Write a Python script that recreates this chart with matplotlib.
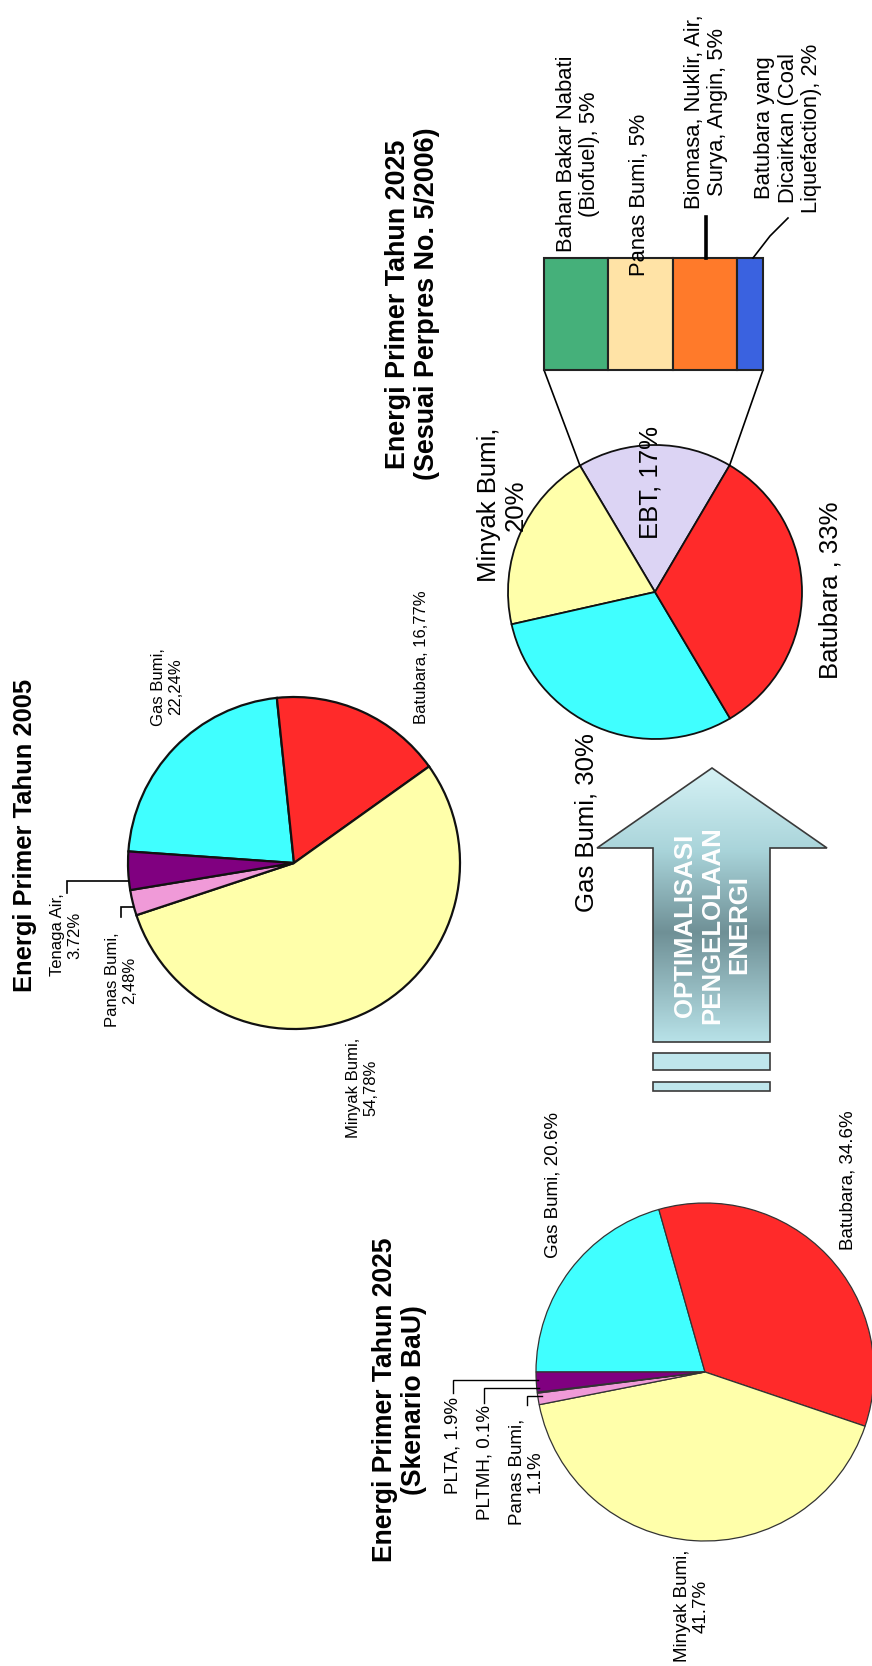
import numpy as np
import matplotlib
matplotlib.use('Agg')
import matplotlib.pyplot as plt
from matplotlib.patches import Polygon, Rectangle
from matplotlib.colors import LinearSegmentedColormap

W, H = 872, 1666

# --- data ---
# Energi Primer Tahun 2005 (clockwise from the left)
lab_2005 = ['Gas Bumi,\n22,24%', 'Batubara, 16,77%', 'Minyak Bumi,\n54,78%',
            'Panas Bumi,\n2,48%', 'Tenaga Air,\n3.72%']
val_2005 = [22.24, 16.77, 54.78, 2.48, 3.72]

# Energi Primer Tahun 2025 (Skenario BaU)
lab_bau = ['Gas Bumi, 20.6%', 'Batubara, 34.6%', 'Minyak Bumi,\n41.7%',
           'Panas Bumi,\n1.1%', 'PLTMH, 0.1%', 'PLTA, 1.9%']
val_bau = [20.6, 34.6, 41.7, 1.1, 0.1, 1.9]

# Energi Primer Tahun 2025 (Sesuai Perpres No. 5/2006)
lab_perpres = ['EBT, 17%', 'Minyak Bumi,\n20%', 'Gas Bumi, 30%', 'Batubara , 33%']
val_perpres = [17, 20, 30, 33]

# rincian EBT
lab_ebt = ['Bahan Bakar Nabati\n(Biofuel), 5%', 'Panas Bumi, 5%',
           'Biomasa, Nuklir, Air,\nSurya, Angin, 5%',
           'Batubara yang\nDicairkan (Coal\nLiquefaction), 2%']
val_ebt = [5, 5, 5, 2]

cyan, red, yellow = '#40FFFF', '#FF2A2A', '#FFFFAA'
pink, purple, lav = '#F09AD8', '#800080', '#DCD4F4'
col_2005 = [cyan, red, yellow, pink, purple]
col_bau = [cyan, red, yellow, pink, '#CC99FF', purple]
col_perpres = [lav, yellow, cyan, red]
col_ebt = ['#45B07A', '#FFE3A6', '#FF7A2A', '#3A62E0']

FONT = 'Liberation Sans'


def Y(y):
    return H - y


fig = plt.figure(figsize=(W / 100, H / 100), dpi=100)
ax = fig.add_axes([0, 0, 1, 1])


def vtext(x, y, s, size, bold=False, color='black', z=10):
    ax.text(x, Y(y), s, rotation=90, ha='center', va='center', fontsize=size,
            fontweight='bold' if bold else 'normal', color=color,
            family=FONT, zorder=z, linespacing=1.15)


def leader(pts, lw=1.2):
    ax.plot([p[0] for p in pts], [Y(p[1]) for p in pts], color='black', lw=lw,
            solid_joinstyle='miter', zorder=6)


# pies
ax.pie(val_2005, colors=col_2005, center=(294, Y(863)), radius=166,
       startangle=176, counterclock=False,
       wedgeprops=dict(edgecolor='#111111', linewidth=1.6))
w_p, _ = ax.pie(val_perpres, colors=col_perpres, center=(655, Y(592)), radius=147,
                startangle=59.5, counterclock=True,
                wedgeprops=dict(edgecolor='#111111', linewidth=1.3))
ax.pie(val_bau, colors=col_bau, center=(705, Y(1372)), radius=169,
       startangle=180, counterclock=False,
       wedgeprops=dict(edgecolor='#333333', linewidth=0.9))

# EBT bar
bx0, bx1, by0, by1 = 544, 763, 258, 370
scale = (bx1 - bx0) / sum(val_ebt)
lefts = bx0 + scale * np.concatenate([[0], np.cumsum(val_ebt)[:-1]])
ax.barh(Y((by0 + by1) / 2), np.array(val_ebt) * scale, left=lefts,
        height=by1 - by0, color=col_ebt, edgecolor='#222222', linewidth=1.5, zorder=3)

# connector lines from EBT slice to the bar
ebt = w_p[0]
cxp, cyp = ebt.center
for th, bx in [(ebt.theta2, bx0), (ebt.theta1, bx1)]:
    px = cxp + ebt.r * np.cos(np.radians(th))
    py = cyp + ebt.r * np.sin(np.radians(th))
    ax.plot([px, bx], [py, Y(by1)], color='black', lw=1.2, zorder=2)

# arrow
arrow_pts = [(712, 768), (827, 848), (770, 848), (770, 1042), (653, 1042),
             (653, 848), (597, 848)]
poly = Polygon([(x, Y(y)) for x, y in arrow_pts], closed=True, facecolor='none',
               edgecolor='#3a3a3a', lw=1.2, zorder=5)
ax.add_patch(poly)
cmap = LinearSegmentedColormap.from_list(
    'arr', [(0, '#d6f2f5'), (0.3, '#a9d4da'), (0.6, '#6f9096'), (1, '#b8e2e8')])
grad = np.linspace(0, 1, 256).reshape(-1, 1)
im = ax.imshow(grad, cmap=cmap, extent=(597, 827, Y(1042), Y(768)),
               origin='upper', aspect='auto', zorder=4)
im.set_clip_path(poly)
for y0, y1 in [(1053, 1070), (1082, 1091)]:
    ax.add_patch(Rectangle((653, Y(y1)), 117, y1 - y0, facecolor='#bfe6ec',
                           edgecolor='#3a3a3a', lw=1.2, zorder=5))
vtext(712, 925, 'OPTIMALISASI\nPENGELOLAAN\nENERGI', 18.5, bold=True,
      color='white', z=7)

# titles
vtext(25, 835, 'Energi Primer Tahun 2005', 18.4, bold=True)
vtext(412, 304, 'Energi Primer Tahun 2025\n(Sesuai Perpres No. 5/2006)', 19.4, bold=True)
vtext(399, 1400, 'Energi Primer Tahun 2025\n(Skenario BaU)', 19.1, bold=True)

# labels 2005
pos_2005 = [(167, 687), (421, 657), (362, 1088), (121, 980), (66, 935)]
for (x, y), s in zip(pos_2005, lab_2005):
    vtext(x, y, s, 12)
leader([(67, 893), (67, 881), (128, 881)])
leader([(121, 917), (121, 907), (133, 907)])

# labels perpres
pos_perpres = [(650, 482), (502, 505), (586, 823), (830, 590)]
for (x, y), s in zip(pos_perpres, lab_perpres):
    vtext(x, y, s, 18.5)

# labels EBT
pos_ebt = [(578, 154), (639, 195), (706, 112), (788, 128)]
for (x, y), s in zip(pos_ebt, lab_ebt):
    vtext(x, y, s, 15.8)
leader([(706, 217), (706, 258)], lw=2.6)
leader([(753, 258), (770, 236), (788, 218)])

# labels BaU
pos_bau = [(553, 1185), (848, 1180), (692, 1606), (526, 1472), (485, 1462), (453, 1446)]
for (x, y), s in zip(pos_bau, lab_bau):
    vtext(x, y, s, 13.5)
leader([(453, 1393), (453, 1380), (538, 1380)], lw=1)
leader([(484, 1403), (484, 1388), (539, 1388)], lw=1)
leader([(527, 1405), (527, 1396), (542, 1396)], lw=1)

ax.set_xlim(0, W)
ax.set_ylim(0, H)
ax.set_aspect('auto')
ax.axis('off')
fig.savefig('out.png', dpi=100, facecolor='white')
